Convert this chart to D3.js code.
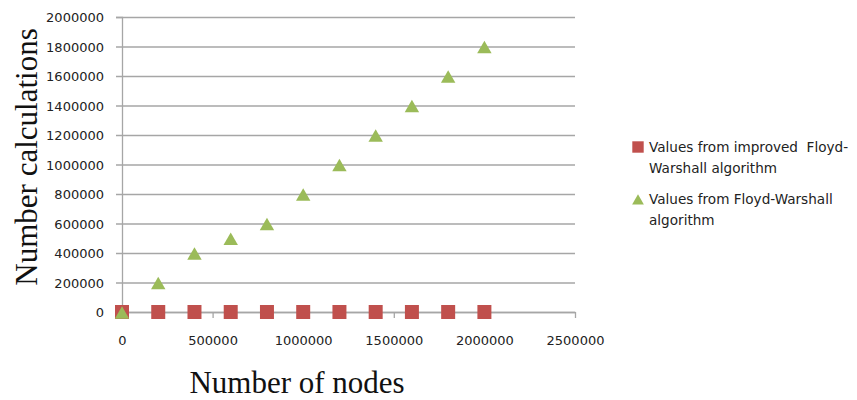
<!DOCTYPE html>
<html>
<head>
<meta charset="utf-8">
<script src="https://cdn.jsdelivr.net/npm/d3@7"></script>
<style>
  html, body { margin: 0; padding: 0; background: #fff; }
  svg { display: block; }
  .tick-label { font-family: "DejaVu Sans", sans-serif; font-size: 13px; fill: #222; }
  .axis-title { font-family: "Liberation Serif", "Times New Roman", serif; font-size: 31px; fill: #111; }
  .legend-text { font-family: "DejaVu Sans", sans-serif; font-size: 13.6px; fill: #222; }
</style>
</head>
<body>
<div id="chart"></div>
<script>
// Number of calculations vs number of nodes

const nodes = [0, 200000, 400000, 600000, 800000, 1000000, 1200000, 1400000, 1600000, 1800000, 2000000];
const improvedValues = [0, 0, 0, 0, 0, 0, 0, 0, 0, 0, 0];
const floydValues = [0, 200000, 400000, 500000, 600000, 800000, 1000000, 1200000, 1400000, 1600000, 1800000];
const xTicks = [0, 500000, 1000000, 1500000, 2000000, 2500000];
const yTicks = [0, 200000, 400000, 600000, 800000, 1000000, 1200000, 1400000, 1600000, 1800000, 2000000];
const seriesNames = [
  ['Values from improved\u00a0 Floyd-', 'Warshall algorithm'],
  ['Values from Floyd-Warshall', 'algorithm']
];

const width = 857;
const height = 400;
const red = '#c0504d';
const green = '#9bbb59';
const gridColor = '#a6a6a6';

const svg = d3.select('#chart').append('svg')
  .attr('width', width)
  .attr('height', height);

const x = d3.scaleLinear().domain([0, 2500000]).range([122, 575]);
const y = d3.scaleLinear().domain([0, 2000000]).range([312, 17]);

// horizontal gridlines + left ticks
const yAxis = svg.append('g')
  .attr('transform', `translate(${x(0)},0)`)
  .call(d3.axisLeft(y).tickValues(yTicks).tickFormat(d3.format('d')).tickSize(6).tickPadding(12));
yAxis.select('.domain').attr('stroke', gridColor).attr('stroke-width', 1.3);
yAxis.selectAll('.tick line').attr('stroke', gridColor).attr('stroke-width', 1.3)
  .attr('x2', (x(2500000) - x(0)))
  .attr('x1', -6);
yAxis.selectAll('.tick text').attr('class', 'tick-label').attr('dy', '0.35em');

// bottom axis with downward ticks
const xAxis = svg.append('g')
  .attr('transform', `translate(0,${y(0)})`)
  .call(d3.axisBottom(x).tickValues(xTicks).tickFormat(d3.format('d')).tickSize(6).tickSizeOuter(0).tickPadding(18));
xAxis.select('.domain').attr('stroke', gridColor).attr('stroke-width', 1.3);
xAxis.selectAll('.tick line').attr('stroke', gridColor).attr('stroke-width', 1.3);
xAxis.selectAll('.tick text').attr('class', 'tick-label');

// series: improved (squares), plain Floyd-Warshall (triangles)
const square = d3.symbol().type(d3.symbolSquare).size(196);
const triangle = d3.symbol().type(d3.symbolTriangle).size(90);

svg.append('g').selectAll('path')
  .data(nodes.map((n, i) => ({ n, v: improvedValues[i] })))
  .enter().append('path')
  .attr('d', square)
  .attr('transform', d => `translate(${x(d.n)},${y(d.v)})`)
  .attr('fill', red);

// triangle is drawn around its centroid; nudge so its box is centred on the value
svg.append('g').selectAll('path')
  .data(nodes.map((n, i) => ({ n, v: floydValues[i] })))
  .enter().append('path')
  .attr('d', triangle)
  .attr('transform', d => `translate(${x(d.n)},${y(d.v) + 2.5})`)
  .attr('fill', green);

// axis titles
svg.append('text')
  .attr('class', 'axis-title')
  .attr('transform', `translate(37, ${(27 + 287) / 2}) rotate(-90)`)
  .attr('text-anchor', 'middle')
  .text('Number calculations');

svg.append('text')
  .attr('class', 'axis-title')
  .attr('x', 297)
  .attr('y', 393)
  .attr('text-anchor', 'middle')
  .text('Number of nodes');

// legend
const legend = svg.append('g').attr('transform', 'translate(632,0)');
const legendRows = [
  { y: 147, shape: d3.symbol().type(d3.symbolSquare).size(130), color: red, lines: seriesNames[0], dy: 0 },
  { y: 199, shape: d3.symbol().type(d3.symbolTriangle).size(60), color: green, lines: seriesNames[1], dy: 2 }
];
legendRows.forEach(r => {
  legend.append('path')
    .attr('d', r.shape)
    .attr('transform', `translate(6,${r.y + r.dy})`)
    .attr('fill', r.color);
  const t = legend.append('text').attr('class', 'legend-text').attr('x', 17).attr('y', r.y + 5);
  r.lines.forEach((line, i) => {
    t.append('tspan').attr('x', 17).attr('dy', i === 0 ? 0 : 21).text(line);
  });
});
</script>
</body>
</html>
